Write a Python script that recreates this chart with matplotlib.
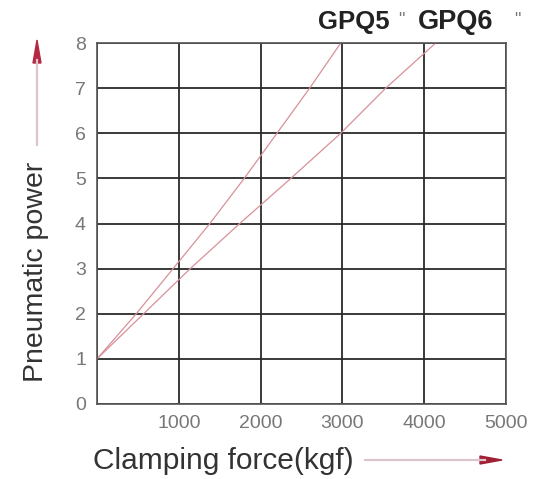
import numpy as np
import matplotlib
matplotlib.use('Agg')
import matplotlib.pyplot as plt
from matplotlib.lines import Line2D
from matplotlib.patches import Polygon

plt.rcParams['font.family'] = ['Liberation Sans', 'DejaVu Sans']

# curves: pneumatic power (1..8) vs clamping force
power = [1, 2, 3, 4, 5, 6, 7, 8]
gpq5_force = [0, 480, 930, 1380, 1800, 2200, 2600, 2980]
gpq6_force = [0, 570, 1140, 1745, 2370, 2980, 3530, 4140]

x_ticks = [0, 1000, 2000, 3000, 4000, 5000]
x_labels = ['', '1000', '2000', '3000', '4000', '5000']
y_ticks = [0, 1, 2, 3, 4, 5, 6, 7, 8]

W, H = 538, 479
fig = plt.figure(figsize=(W / 100, H / 100), dpi=100)
ax = fig.add_axes([97 / W, 1 - 404 / H, 409 / W, 361 / H])

line_col = '#d89098'
ax.plot(gpq5_force, power, color=line_col, lw=0.9)
ax.plot(gpq6_force, power, color=line_col, lw=0.9)

ax.set_xlim(0, 5000)
ax.set_ylim(0, 8)
ax.set_xticks(x_ticks)
ax.set_xticklabels(x_labels)
ax.set_yticks(y_ticks)
ax.grid(True, color='#2a2a2a', lw=1.3)
ax.set_axisbelow(True)
ax.tick_params(length=0, labelsize=14, labelcolor='#777777', pad=8)
for s in ax.spines.values():
    s.set_color('#555555')
    s.set_linewidth(1.2)

# labels
fig.text(36 / W, 1 - 272 / H, 'Pneumatic power', rotation=90, ha='center',
         va='center', fontsize=20.5, color='#333333')
fig.text(93 / W, 1 - 461 / H, 'Clamping force(kgf)', ha='left', va='center',
         fontsize=21.5, color='#333333')


def fx(px):
    return px / W


def fy(py):
    return 1 - py / H


# arrows: pale shaft + dark red head
fig.add_artist(Line2D([fx(37), fx(37)], [fy(145), fy(60)], color='#dcc4cc',
                      lw=1.6, transform=fig.transFigure))
fig.add_artist(Polygon([(fx(37), fy(40)), (fx(33), fy(63)), (fx(41), fy(63))],
                       closed=True, color='#b52842', transform=fig.transFigure))
fig.add_artist(Line2D([fx(365), fx(485)], [fy(460), fy(460)], color='#dcc4cc',
                      lw=1.6, transform=fig.transFigure))
fig.add_artist(Polygon([(fx(502), fy(460)), (fx(480), fy(456)), (fx(480), fy(464))],
                       closed=True, color='#a02035', transform=fig.transFigure))

# series names at top
fig.text(318 / W, 1 - 22 / H, 'GPQ5', fontsize=18.5, fontweight='bold',
         color='#222222', ha='left', va='center')
fig.text(398 / W, 1 - 20 / H, '"', fontsize=13, color='#777777',
         ha='left', va='center')
fig.text(418 / W, 1 - 22 / H, 'GPQ6', fontsize=19.5, fontweight='bold',
         color='#222222', ha='left', va='center')
fig.text(514 / W, 1 - 20 / H, '"', fontsize=13, color='#777777',
         ha='left', va='center')

fig.savefig('out.png', dpi=100)
